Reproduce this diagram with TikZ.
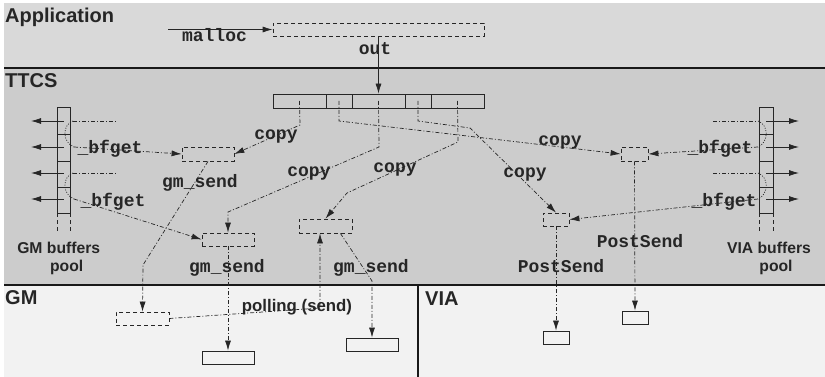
\documentclass[tikz,border=0pt]{standalone}
\usepackage{fontspec}
\setmainfont{Liberation Sans}
\setmonofont{Liberation Mono}
\usetikzlibrary{arrows.meta,calc}
\definecolor{appc}{HTML}{D9D9D9}
\definecolor{ttcsc}{HTML}{CCCCCC}
\definecolor{gmc}{HTML}{F2F2F2}
\definecolor{ink}{HTML}{262626}
\begin{document}
\begin{tikzpicture}[x=1pt,y=-1pt,
  band/.style={font=\bfseries\fontsize{20}{20}\selectfont, text=ink, inner sep=0, anchor=base west},
  mlbl/.style={font=\ttfamily\bfseries\fontsize{18}{18}\selectfont, text=ink, inner sep=0, anchor=base},
  slbl/.style={font=\bfseries\fontsize{15.7}{16}\selectfont, text=ink, inner sep=0, anchor=base},
  dbox/.style={draw=ink, dash pattern=on 4pt off 3pt, line width=0.8pt, inner sep=0, minimum height=14pt},
  sbox/.style={draw=ink, line width=0.9pt, inner sep=0, minimum height=13pt},
  cell/.style={draw=ink, line width=0.8pt, inner sep=0, minimum height=14pt},
  conn/.style={draw=ink, line width=0.7pt, dash pattern=on 4pt off 2pt on 1pt off 2pt},
  dotc/.style={draw=ink, line width=0.7pt, dash pattern=on 1pt off 1.5pt},
  dashc/.style={draw=ink, line width=0.8pt, dash pattern=on 4pt off 3pt},
  arr/.style={-{Latex[length=10pt,width=6pt]}},
  solidc/.style={draw=ink, line width=0.8pt},
  bandline/.style={draw=black!90, line width=1.1pt},
]
\useasboundingbox (0,0) rectangle (825,377);
% bands
\fill[white] (0,0) rectangle (825,377);
\fill[appc] (4,3) rectangle (825,68);
\fill[ttcsc] (4,68) rectangle (825,285);
\fill[gmc] (4,285) rectangle (825,377);
\draw[bandline] (4,68) -- (825,68);
\draw[bandline] (4,285) -- (825,285);
\draw[bandline] (418,285) -- (418,377);

% application box
\node[dbox, minimum width=211pt, minimum height=13pt] (appbox) at (378.5,29.5) {};
% buffer array
\node[cell, minimum width=53pt] (c1) at (299.5,101) {};
\node[cell, minimum width=26pt] (c2) at (339,101) {};
\node[cell, minimum width=53pt] (c3) at (378.5,101) {};
\node[cell, minimum width=26pt] (c4) at (418,101) {};
\node[cell, minimum width=53pt] (c5) at (457.5,101) {};
% TTCS boxes
\node[dbox, minimum width=52pt] (b1) at (208,154) {};
\node[dbox, minimum width=52pt, minimum height=13pt] (b2) at (228,239.5) {};
\node[dbox, minimum width=53pt] (b3) at (325.5,226) {};
\node[dbox, minimum width=27pt] (vb1) at (634.5,154) {};
\node[dbox, minimum width=26pt, minimum height=13pt] (vb2) at (556,219.5) {};
% GM / VIA boxes
\node[dbox, minimum width=53pt, minimum height=13pt] (gb1) at (142.5,318.5) {};
\node[sbox, minimum width=52pt] (gs1) at (228,357.5) {};
\node[sbox, minimum width=52pt] (gs2) at (372,344.5) {};
\node[sbox, minimum width=26pt] (vs1) at (556,337.5) {};
\node[sbox, minimum width=26pt] (vs2) at (635,317.5) {};
% pools
\node[draw=ink, line width=0.8pt, inner sep=0, minimum width=13pt, minimum height=105.5pt] (gp) at (63.5,160.25) {};
\node[draw=ink, line width=0.8pt, inner sep=0, minimum width=14pt, minimum height=105.5pt] (vp) at (766,160.25) {};
\foreach \yy in {134,161,187} {
  \draw[solidc] (57,\yy) -- (70,\yy);
  \draw[solidc] (759,\yy) -- (773,\yy);
}
\draw[dashc] (57,213) -- (57,232);
\draw[dashc] (70,213) -- (70,232);
\draw[dashc] (759,213) -- (759,232);
\draw[dashc] (773,213) -- (773,232);
\foreach \yy [count=\i] in {121,147,173,199} {
  \coordinate (gl\i) at (31,\yy);
  \draw[solidc, arr] (gp.center |- gl\i) -- (gl\i);
  \coordinate (vr\i) at (799,\yy);
  \draw[solidc, arr] (vp.center |- vr\i) -- (vr\i);
}

% application connectors
\coordinate (mstart) at (168,29.5);
\draw[solidc, arr] (mstart) -- (appbox.west);
\draw[solidc, arr] (appbox.south) -- (c3.north);

% copy connectors
\coordinate (k1) at (300,125);
\draw[conn, arr] (c1.center) -- (k1) -- (b1.east);
\coordinate (k2) at (339,121);
\draw[conn, arr] (c2.center) -- (k2) -- (vb1.west);
\coordinate (k3a) at (379,147);
\coordinate (k3b) at (228,212);
\draw[conn, arr] (c3.center) -- (k3a) -- (k3b) -- (b2.north);
\coordinate (k4a) at (418,121);
\coordinate (k4b) at (470,128);
\draw[conn, arr] (c4.center) -- (k4a) -- (k4b) -- (vb2.north);
\coordinate (k5a) at (458,142);
\coordinate (k5b) at (347,193);
\draw[conn, arr] (c5.center) -- (k5a) -- (k5b) -- (b3.north);

% gm_send connectors
\coordinate (k6) at (143,265);
\draw[conn, arr] (b1.south) -- (k6) -- (gb1.north);
\coordinate (k7) at (320,308);
\draw[conn, arr] (gb1.east) -- (k7) -- (k7 |- b3.south);
\coordinate (k8) at (372,281);
\draw[conn, arr] ([xshift=-12pt]b3.south east) -- (k8) -- (gs2.north);
\draw[conn, arr] (b2.south) -- (gs1.north);
\draw[conn, arr] (vb2.south) -- (vs1.north);
\draw[conn, arr] (vb1.south) -- (vs2.north);

% left bfget
\coordinate (ls1) at (73,121);
\coordinate (le1) at (116,121);
\coordinate (ls2) at (73,173);
\coordinate (le2) at (116,173);
\draw[conn] (ls1) -- (le1);
\draw[conn] (ls2) -- (le2);
\coordinate (la1) at (74,147);
\coordinate (la2) at (74,199);
\draw[dotc] (ls1) .. controls (62,125) and (62,142) .. (la1);
\draw[dotc] (ls2) .. controls (62,177) and (62,194) .. (la2);
\draw[conn, arr] (la1) -- (b1.west);
\draw[conn, arr] (la2) -- (b2.west);
% right bfget
\coordinate (rs1) at (758,121);
\coordinate (re1) at (713,121);
\coordinate (rs2) at (758,173);
\coordinate (re2) at (713,173);
\draw[conn] (re1) -- (rs1);
\draw[conn] (re2) -- (rs2);
\coordinate (ra1) at (758,147);
\coordinate (ra2) at (758,199);
\draw[dotc] (rs1) .. controls (769,125) and (769,142) .. (ra1);
\draw[dotc] (rs2) .. controls (769,177) and (769,194) .. (ra2);
\draw[conn, arr] (ra1) -- (vb1.east);
\draw[conn, arr] (ra2) -- (vb2.east);

% labels
\node[band] (lapp) at (5,23) {Application};
\node[band] (lttcs) at (5,88) {TTCS};
\node[band] (lgm) at (5,304) {GM};
\node[band] (lvia) at (425,305) {VIA};
\node[mlbl] (lmalloc) at (214.5,41.5) {malloc};
\node[mlbl] (lout) at (375,55) {out};
\node[mlbl] (cp1) at (276,140) {copy};
\node[mlbl] (cp2) at (560,146) {copy};
\node[mlbl] (cp3) at (309,177) {copy};
\node[mlbl] (cp4) at (525,178) {copy};
\node[mlbl] (cp5) at (395,172) {copy};
\node[mlbl] (gms1) at (200,187) {gm\_send};
\node[mlbl] (gms2) at (227,272) {gm\_send};
\node[mlbl] (gms3) at (371,272) {gm\_send};
\node[mlbl] (ps1) at (561,272) {PostSend};
\node[mlbl] (ps2) at (640,247) {PostSend};
\node[mlbl] (bf1) at (110,154) {\_bfget};
\node[mlbl] (bf2) at (113,206) {\_bfget};
\node[mlbl] (bf3) at (720,154) {\_bfget};
\node[mlbl] (bf4) at (724,206) {\_bfget};
\node[slbl, font=\bfseries\fontsize{16.8}{17}\selectfont] (poll) at (297,311) {polling (send)};
\node[slbl] (gmb1) at (58.7,253) {GM buffers};
\node[slbl] (gmb2) at (66.7,271) {pool};
\node[slbl] (vib1) at (769,253) {VIA buffers};
\node[slbl] (vib2) at (776,271) {pool};
\end{tikzpicture}
\end{document}
